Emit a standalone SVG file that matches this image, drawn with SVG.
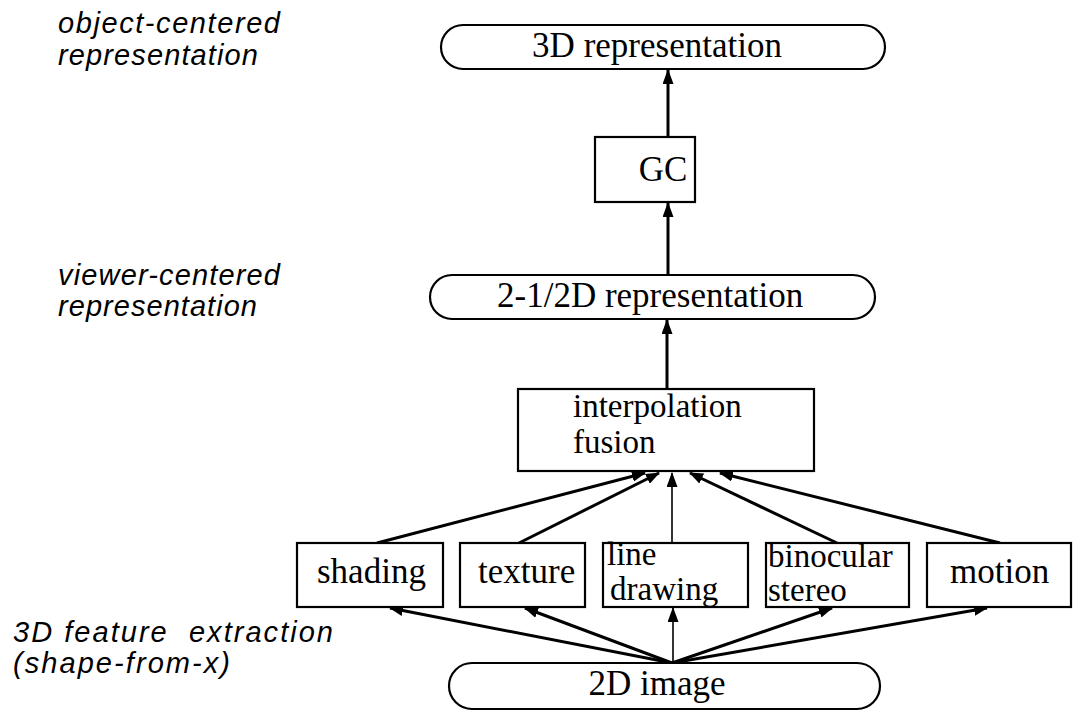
<svg xmlns="http://www.w3.org/2000/svg" width="1081" height="712" viewBox="0 0 1081 712">
<defs>
<style>
.box{fill:#fff;stroke:#000;stroke-width:2.2}
.t{font-family:"Liberation Serif","Times New Roman",serif;font-size:35px;fill:#000}
.t2{font-family:"Liberation Serif","Times New Roman",serif;font-size:33px;fill:#000}
.lbl{font-family:"Liberation Sans",Arial,sans-serif;font-style:italic;font-size:29px;fill:#000}
.c{stroke:#000;stroke-width:3;fill:none}
.thin{stroke:#000;stroke-width:1.6;fill:none}
</style>
<marker id="ah" viewBox="0 0 14 11" refX="13" refY="5.5" markerWidth="14" markerHeight="11" markerUnits="userSpaceOnUse" orient="auto">
<path d="M0,0 L14,5.5 L0,11 Z" fill="#000"/>
</marker>
<marker id="ah2" viewBox="0 0 15 11" refX="14" refY="5.5" markerWidth="15" markerHeight="11" markerUnits="userSpaceOnUse" orient="auto">
<path d="M0,0 L15,5.5 L0,11 Z" fill="#000"/>
</marker>
</defs>
<rect width="1081" height="712" fill="#fff"/>

<g id="labels">
<text class="lbl" x="58" y="33" textLength="222" lengthAdjust="spacing">object-centered</text>
<text class="lbl" x="58" y="65" textLength="200" lengthAdjust="spacing">representation</text>
<text class="lbl" x="58" y="285" textLength="222" lengthAdjust="spacing">viewer-centered</text>
<text class="lbl" x="58" y="316" textLength="199" lengthAdjust="spacing">representation</text>
<text class="lbl" x="13" y="642" textLength="320" lengthAdjust="spacing" xml:space="preserve">3D feature  extraction</text>
<text class="lbl" x="13" y="673" textLength="217" lengthAdjust="spacing">(shape-from-x)</text>
</g>

<g id="connectors">
<line class="c" x1="668" y1="137" x2="668" y2="70" marker-end="url(#ah2)"/>
<line class="c" x1="668" y1="275" x2="668" y2="203" marker-end="url(#ah2)"/>
<line class="c" x1="667" y1="389" x2="667" y2="320" marker-end="url(#ah2)"/>
<line class="c" x1="377" y1="543" x2="645" y2="473" marker-end="url(#ah)"/>
<line class="c" x1="519" y1="543" x2="659" y2="473" marker-end="url(#ah)"/>
<line class="thin" x1="672" y1="543" x2="672" y2="473" marker-end="url(#ah2)"/>
<line class="c" x1="837" y1="543" x2="690" y2="473" marker-end="url(#ah)"/>
<line class="c" x1="1000" y1="543" x2="720" y2="473" marker-end="url(#ah)"/>
<line class="c" x1="672" y1="663" x2="390" y2="608" marker-end="url(#ah)"/>
<line class="c" x1="672" y1="663" x2="525" y2="608" marker-end="url(#ah)"/>
<line class="thin" x1="673" y1="663" x2="673" y2="608" marker-end="url(#ah2)"/>
<line class="c" x1="672" y1="663" x2="832" y2="608" marker-end="url(#ah)"/>
<line class="c" x1="672" y1="663" x2="987" y2="608" marker-end="url(#ah)"/>
</g>

<g id="n3d">
<rect class="box" x="441" y="25" width="444" height="44" rx="22"/>
<text class="t" x="657" y="57" text-anchor="middle">3D representation</text>
</g>
<g id="ngc">
<rect class="box" x="595" y="137" width="100" height="65"/>
<text class="t" x="663" y="181" text-anchor="middle">GC</text>
</g>
<g id="n25d">
<rect class="box" x="430" y="275" width="445" height="44" rx="22"/>
<text class="t" x="497" y="307">2-1/2D representation</text>
</g>
<g id="ninterp">
<rect class="box" x="518" y="389" width="296" height="82"/>
<text class="t2" x="573" y="417">interpolation</text>
<text class="t2" x="573" y="453">fusion</text>
</g>
<g id="nshading">
<rect class="box" x="297" y="543" width="146" height="64"/>
<text class="t" x="317" y="583">shading</text>
</g>
<g id="ntexture">
<rect class="box" x="460" y="543" width="125" height="64"/>
<text class="t" x="478" y="583">texture</text>
</g>
<g id="nline">
<rect class="box" x="603" y="543" width="145" height="64"/>
<text class="t2" x="607" y="565">line</text>
<text class="t2" x="610" y="600">drawing</text>
</g>
<g id="nbino">
<rect class="box" x="766" y="543" width="143" height="64"/>
<text class="t2" x="768" y="567">binocular</text>
<text class="t2" x="768" y="601">stereo</text>
</g>
<g id="nmotion">
<rect class="box" x="927" y="543" width="144" height="64"/>
<text class="t" x="950" y="583">motion</text>
</g>
<g id="n2d">
<rect class="box" x="449" y="663" width="431" height="46" rx="23"/>
<text class="t" x="657" y="695" text-anchor="middle">2D image</text>
</g>
</svg>
